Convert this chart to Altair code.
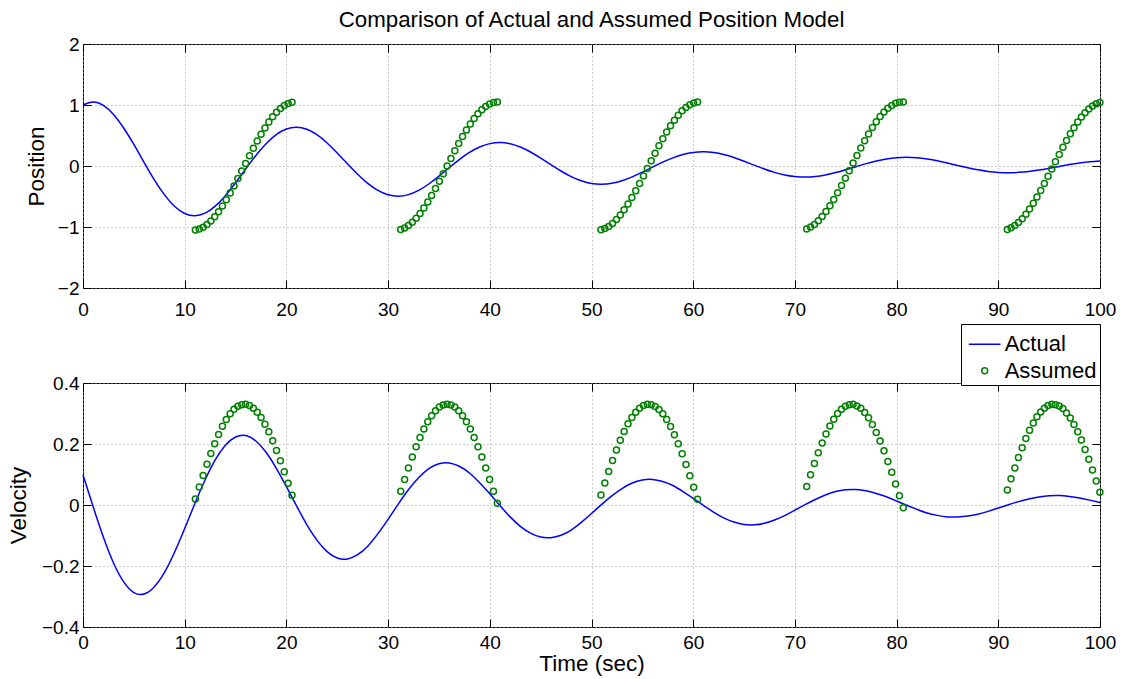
import altair as alt
import pandas as pd

# ---------------- data ----------------
actual_t = [0, 1, 2, 3, 4, 5, 6, 7, 8, 9, 10, 11, 12, 13, 14, 15, 16, 17, 18, 19,
            20, 21, 22, 23, 24, 25, 26, 27, 28, 29, 30, 31, 32, 33, 34, 35, 36, 37, 38, 39,
            40, 41, 42, 43, 44, 45, 46, 47, 48, 49, 50, 51, 52, 53, 54, 55, 56, 57, 58, 59,
            60, 61, 62, 63, 64, 65, 66, 67, 68, 69, 70, 71, 72, 73, 74, 75, 76, 77, 78, 79,
            80, 81, 82, 83, 84, 85, 86, 87, 88, 89, 90, 91, 92, 93, 94, 95, 96, 97, 98, 99, 100]

actual_position = [
    1.000, 1.048, 0.993, 0.846, 0.623, 0.353, 0.061, -0.222, -0.470, -0.661,
    -0.779, -0.816, -0.773, -0.658, -0.486, -0.275, -0.048, 0.173, 0.365, 0.515,
    0.607, 0.636, 0.602, 0.513, 0.378, 0.214, 0.037, -0.135, -0.285, -0.400,
    -0.472, -0.495, -0.469, -0.399, -0.295, -0.167, -0.029, 0.105, 0.222, 0.312,
    0.367, 0.385, 0.365, 0.311, 0.230, 0.130, 0.023, -0.082, -0.173, -0.242,
    -0.287, -0.300, -0.284, -0.242, -0.178, -0.101, -0.018, 0.063, 0.134, 0.189,
    0.223, 0.233, 0.221, 0.188, 0.139, 0.079, 0.014, -0.049, -0.105, -0.148,
    -0.173, -0.182, -0.173, -0.146, -0.108, -0.061, -0.011, 0.039, 0.082, 0.114,
    0.135, 0.142, 0.134, 0.114, 0.085, 0.048, 0.009, -0.029, -0.063, -0.089,
    -0.105, -0.110, -0.104, -0.089, -0.066, -0.037, -0.007, 0.023, 0.049, 0.069,
    0.081]

actual_velocity = [
    0.099, -0.006, -0.105, -0.190, -0.252, -0.287, -0.292, -0.269, -0.222, -0.155,
    -0.077, 0.005, 0.082, 0.148, 0.196, 0.223, 0.228, 0.210, 0.173, 0.121,
    0.060, -0.003, -0.064, -0.115, -0.153, -0.174, -0.177, -0.163, -0.135, -0.094,
    -0.047, 0.003, 0.050, 0.089, 0.119, 0.135, 0.138, 0.127, 0.105, 0.073,
    0.037, -0.002, -0.039, -0.070, -0.092, -0.105, -0.107, -0.099, -0.082, -0.057,
    -0.028, 0.002, 0.030, 0.054, 0.072, 0.082, 0.084, 0.077, 0.064, 0.044,
    0.022, -0.001, -0.023, -0.042, -0.056, -0.064, -0.065, -0.060, -0.049, -0.035,
    -0.017, 0.001, 0.018, 0.033, 0.044, 0.050, 0.051, 0.047, 0.038, 0.027,
    0.013, -0.001, -0.014, -0.026, -0.034, -0.039, -0.039, -0.036, -0.030, -0.021,
    -0.010, 0.001, 0.011, 0.020, 0.026, 0.030, 0.031, 0.028, 0.023, 0.016,
    0.008]

assumed_t = [
    11.05, 11.43, 11.81, 12.19, 12.57, 12.95, 13.33, 13.71, 14.09, 14.47, 14.85, 15.23, 15.61,
    15.99, 16.37, 16.75, 17.13, 17.51, 17.89, 18.27, 18.65, 19.03, 19.41, 19.79, 20.17, 20.55,
    31.24, 31.62, 32.00, 32.38, 32.76, 33.14, 33.52, 33.90, 34.28, 34.66, 35.04, 35.42, 35.80,
    36.18, 36.56, 36.94, 37.32, 37.70, 38.08, 38.46, 38.84, 39.22, 39.60, 39.98, 40.36, 40.74,
    50.93, 51.31, 51.69, 52.07, 52.45, 52.83, 53.21, 53.59, 53.97, 54.35, 54.73, 55.11, 55.49,
    55.87, 56.25, 56.63, 57.01, 57.39, 57.77, 58.15, 58.53, 58.91, 59.29, 59.67, 60.05, 60.43,
    71.16, 71.54, 71.92, 72.30, 72.68, 73.06, 73.44, 73.82, 74.20, 74.58, 74.96, 75.34, 75.72,
    76.10, 76.48, 76.86, 77.24, 77.62, 78.00, 78.38, 78.76, 79.14, 79.52, 79.90, 80.28, 80.66,
    90.89, 91.25, 91.62, 91.98, 92.35, 92.71, 93.07, 93.44, 93.80, 94.17, 94.53, 94.89, 95.26,
    95.62, 95.99, 96.35, 96.71, 97.08, 97.44, 97.81, 98.17, 98.53, 98.90, 99.26, 99.63, 99.99]

assumed_position = [
    -1.048, -1.033, -1.004, -0.960, -0.902, -0.832, -0.749, -0.656, -0.554, -0.444, -0.328, -0.206, -0.082,
    0.043, 0.167, 0.290, 0.408, 0.520, 0.625, 0.721, 0.807, 0.881, 0.943, 0.991, 1.025, 1.045,
    -1.040, -1.015, -0.976, -0.923, -0.857, -0.779, -0.689, -0.590, -0.483, -0.368, -0.248, -0.125, 0.000,
    0.125, 0.248, 0.368, 0.483, 0.590, 0.689, 0.779, 0.857, 0.923, 0.976, 1.015, 1.040, 1.050,
    -1.045, -1.025, -0.990, -0.941, -0.879, -0.805, -0.719, -0.623, -0.517, -0.405, -0.287, -0.164, -0.040,
    0.086, 0.210, 0.331, 0.447, 0.557, 0.659, 0.752, 0.834, 0.904, 0.961, 1.005, 1.034, 1.048,
    -1.032, -1.002, -0.957, -0.899, -0.828, -0.745, -0.651, -0.549, -0.438, -0.321, -0.200, -0.076, 0.049,
    0.174, 0.296, 0.414, 0.526, 0.630, 0.726, 0.811, 0.885, 0.946, 0.993, 1.027, 1.046, 1.050,
    -1.039, -1.014, -0.976, -0.926, -0.863, -0.789, -0.704, -0.610, -0.509, -0.400, -0.287, -0.169, -0.049,
    0.071, 0.190, 0.307, 0.420, 0.527, 0.628, 0.720, 0.803, 0.875, 0.936, 0.984, 1.019, 1.041]

assumed_velocity = [
    0.020, 0.059, 0.097, 0.134, 0.169, 0.201, 0.231, 0.258, 0.280, 0.299, 0.314, 0.324, 0.329,
    0.330, 0.326, 0.317, 0.304, 0.287, 0.265, 0.240, 0.211, 0.179, 0.145, 0.109, 0.071, 0.032,
    0.045, 0.084, 0.121, 0.157, 0.191, 0.221, 0.249, 0.273, 0.293, 0.309, 0.321, 0.328, 0.330,
    0.328, 0.321, 0.309, 0.293, 0.273, 0.249, 0.221, 0.191, 0.157, 0.121, 0.084, 0.045, 0.006,
    0.033, 0.072, 0.110, 0.146, 0.180, 0.212, 0.241, 0.266, 0.287, 0.304, 0.317, 0.326, 0.330,
    0.329, 0.323, 0.313, 0.299, 0.280, 0.257, 0.230, 0.201, 0.168, 0.133, 0.096, 0.058, 0.019,
    0.061, 0.099, 0.136, 0.171, 0.203, 0.233, 0.259, 0.281, 0.300, 0.314, 0.324, 0.329, 0.330,
    0.325, 0.317, 0.303, 0.286, 0.264, 0.238, 0.210, 0.178, 0.143, 0.107, 0.069, 0.030, -0.009,
    0.049, 0.086, 0.121, 0.156, 0.188, 0.218, 0.245, 0.269, 0.289, 0.305, 0.317, 0.326, 0.330,
    0.329, 0.325, 0.316, 0.302, 0.285, 0.264, 0.240, 0.213, 0.182, 0.150, 0.115, 0.079, 0.042]

series_names = ["Actual", "Assumed"]
x_ticks = [0, 10, 20, 30, 40, 50, 60, 70, 80, 90, 100]
position_ticks = [-2, -1, 0, 1, 2]
velocity_ticks = [-0.4, -0.2, 0, 0.2, 0.4]

# ---------------- styling ----------------
W, H = 1017, 244
FONT = "Liberation Sans"
BLUE = "#0000ff"
GREEN = "#008000"
GRID = "#9a9a9a"
TICK = 8
TICK_FS = 19

actual = pd.DataFrame({"t": actual_t, "position": actual_position,
                       "velocity": actual_velocity, "series": series_names[0]})
assumed = pd.DataFrame({"t": assumed_t, "position": assumed_position,
                        "velocity": assumed_velocity, "series": series_names[1]})

x_scale = alt.Scale(domain=[0, 100], nice=False, zero=False)
pos_scale = alt.Scale(domain=[-2, 2], nice=False, zero=False)
vel_scale = alt.Scale(domain=[-0.4, 0.4], nice=False, zero=False)


def label_x_axis(title, label_pad):
    kw = dict(orient="bottom", values=x_ticks, format="d", grid=True, gridColor=GRID,
              gridDash=[1, 3], gridWidth=1, ticks=False, tickSize=0, domain=False,
              labelFontSize=TICK_FS, labelFont=FONT, labelColor="#000", labelPadding=label_pad,
              labelFlush=False, titleFontSize=22.5, titleFont=FONT, titleFontWeight="normal",
              titleColor="#000", titlePadding=0)
    return alt.Axis(title=title, **kw)


def label_y_axis(title, values, pad):
    return alt.Axis(orient="left", values=values, format="~g", title=title, grid=True,
                    gridColor=GRID, gridDash=[1, 3], gridWidth=1, ticks=False, tickSize=0,
                    domain=False, labelFontSize=TICK_FS, labelFont=FONT, labelColor="#000",
                    labelPadding=4, labelFlush=False, titleFontSize=22.5, titleFont=FONT,
                    titleFontWeight="normal", titleColor="#000", titlePadding=pad)


def tick_axis(orient, values, offset):
    return alt.Axis(orient=orient, values=values, offset=offset, labels=False, domain=False,
                    grid=False, ticks=True, tickSize=TICK, tickColor="#000", tickWidth=1,
                    title=None)


color_scale = alt.Scale(domain=series_names, range=[BLUE, GREEN])
shape_scale = alt.Scale(domain=series_names, range=["stroke", "circle"])
size_scale = alt.Scale(domain=series_names, range=[1000, 36])
legend = alt.Legend(orient="none", legendX=878, legendY=280, title=None, titlePadding=0,
                    labelFontSize=22, labelFont=FONT, labelColor="#000",
                    strokeColor="#000", fillColor="#ffffff", padding=3.3,
                    symbolOffset=3.4, symbolStrokeWidth=1.5, labelOffset=3, rowPadding=4.4)

# ---------------- top panel: position ----------------
top_line = alt.Chart(actual).mark_line(color=BLUE, strokeWidth=1.5, interpolate="natural").encode(
    x=alt.X("t:Q", scale=x_scale, axis=label_x_axis(None, 12)),
    y=alt.Y("position:Q", scale=pos_scale, axis=label_y_axis("Position", position_ticks, 9)),
)
top_pts = alt.Chart(assumed).mark_point(shape="circle", filled=False, color=GREEN, size=36,
                                        strokeWidth=1.5, opacity=1, clip=False).encode(
    x=alt.X("t:Q", scale=x_scale, axis=tick_axis("top", x_ticks, -H)),
    y=alt.Y("position:Q", scale=pos_scale, axis=tick_axis("right", position_ticks, -W)),
)
top_ghost = alt.Chart(actual).mark_line(opacity=0).encode(
    x=alt.X("t:Q", scale=x_scale, axis=tick_axis("bottom", x_ticks, -H)),
    y=alt.Y("position:Q", scale=pos_scale, axis=tick_axis("left", position_ticks, -W)),
)
top = alt.layer(top_line, top_pts, top_ghost).resolve_axis(
    x="independent", y="independent"
).properties(
    width=W, height=H,
    title=alt.TitleParams("Comparison of Actual and Assumed Position Model", fontSize=22.3,
                          font=FONT, fontWeight="normal", color="#000", anchor="middle",
                          baseline="alphabetic", offset=-14),
)

# ---------------- bottom panel: velocity ----------------
bot_line = alt.Chart(actual).mark_line(strokeWidth=1.5, interpolate="natural").encode(
    x=alt.X("t:Q", scale=x_scale, axis=label_x_axis("Time (sec)", 6)),
    y=alt.Y("velocity:Q", scale=vel_scale, axis=label_y_axis("Velocity", velocity_ticks, 11)),
    color=alt.Color("series:N", scale=color_scale, legend=legend),
)
bot_pts = alt.Chart(assumed).mark_point(filled=False, strokeWidth=1.5, opacity=1, clip=False).encode(
    x=alt.X("t:Q", scale=x_scale, axis=tick_axis("top", x_ticks, -H)),
    y=alt.Y("velocity:Q", scale=vel_scale, axis=tick_axis("right", velocity_ticks, -W)),
    color=alt.Color("series:N", scale=color_scale, legend=legend),
    shape=alt.Shape("series:N", scale=shape_scale, legend=legend),
    size=alt.Size("series:N", scale=size_scale, legend=legend),
)
bot_ghost = alt.Chart(actual).mark_line(opacity=0).encode(
    x=alt.X("t:Q", scale=x_scale, axis=tick_axis("bottom", x_ticks, -H)),
    y=alt.Y("velocity:Q", scale=vel_scale, axis=tick_axis("left", velocity_ticks, -W)),
)
bottom = alt.layer(bot_line, bot_pts, bot_ghost).resolve_axis(
    x="independent", y="independent"
).properties(width=W, height=H)

chart = alt.vconcat(top, bottom, spacing=95, bounds="flush").properties(
    padding={"left": 6, "top": 8, "right": 5, "bottom": 5},
    background="#ffffff",
).configure_view(stroke="#000000", strokeWidth=1).configure_axis(labelFont=FONT, titleFont=FONT)

chart.save("out.html", embed_options={"renderer": "svg", "actions": False})
